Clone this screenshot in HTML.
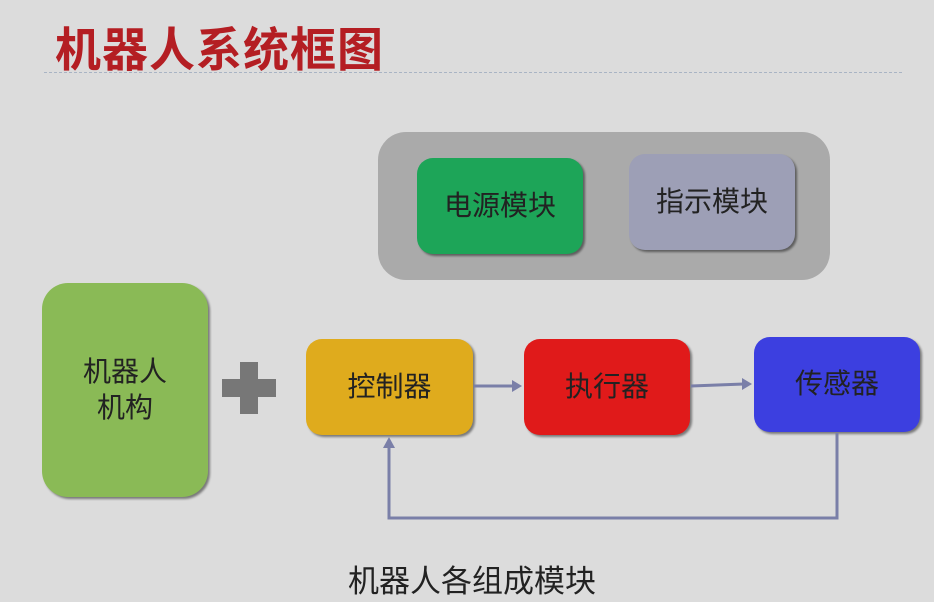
<!DOCTYPE html>
<html><head><meta charset="utf-8"><style>
html,body{margin:0;padding:0}
body{width:934px;height:602px;background:#dcdcdc;position:relative;overflow:hidden;font-family:"Liberation Sans","Noto Sans CJK SC",sans-serif}
.b{position:absolute;display:flex;align-items:center;justify-content:center;color:#222;font-size:28px;border-radius:16px;box-shadow:2px 2px 2px rgba(0,0,0,.45);text-align:center;line-height:1.3}
</style></head><body>
<div style="position:absolute;left:55px;top:14px;font-size:46px;font-weight:bold;color:#b41e23;letter-spacing:1px;transform:scaleY(1.02)">机器人系统框图</div>
<div style="position:absolute;left:44px;top:72px;width:858px;border-top:1px dashed #a9b4c4"></div>
<div style="position:absolute;left:378px;top:132px;width:452px;height:148px;background:#aaaaaa;border-radius:28px"></div>
<div class="b" style="left:417px;top:158px;width:166px;height:96px;background:#1da558">电源模块</div>
<div class="b" style="left:629px;top:154px;width:166px;height:96px;background:#9d9fb6">指示模块</div>
<div class="b" style="left:42px;top:283px;width:166px;height:214px;background:#8aba56;border-radius:26px">机器人<br>机构</div>
<div style="position:absolute;left:222px;top:379px;width:54px;height:18px;background:#777"></div>
<div style="position:absolute;left:240px;top:362px;width:18px;height:52px;background:#777"></div>
<div class="b" style="left:306px;top:339px;width:167px;height:96px;background:#dfab1d">控制器</div>
<div class="b" style="left:524px;top:339px;width:166px;height:96px;background:#e01a1a">执行器</div>
<div class="b" style="left:754px;top:337px;width:166px;height:95px;background:#3c3fe0">传感器</div>
<svg style="position:absolute;left:0;top:0" width="934" height="602">
<g stroke="#7a7fa8" stroke-width="3" fill="none">
<line x1="474" y1="386" x2="514" y2="386"/>
<line x1="691" y1="386" x2="744" y2="384"/>
<polyline points="837,433 837,518 389,518 389,447"/>
</g>
<g fill="#7a7fa8">
<polygon points="522,386 512,380 512,392"/>
<polygon points="752,384 742,378 742,390"/>
<polygon points="389,437 383,448 395,448"/>
</g>
</svg>
<div style="position:absolute;left:348px;top:556px;font-size:31px;color:#222">机器人各组成模块</div>
</body></html>
